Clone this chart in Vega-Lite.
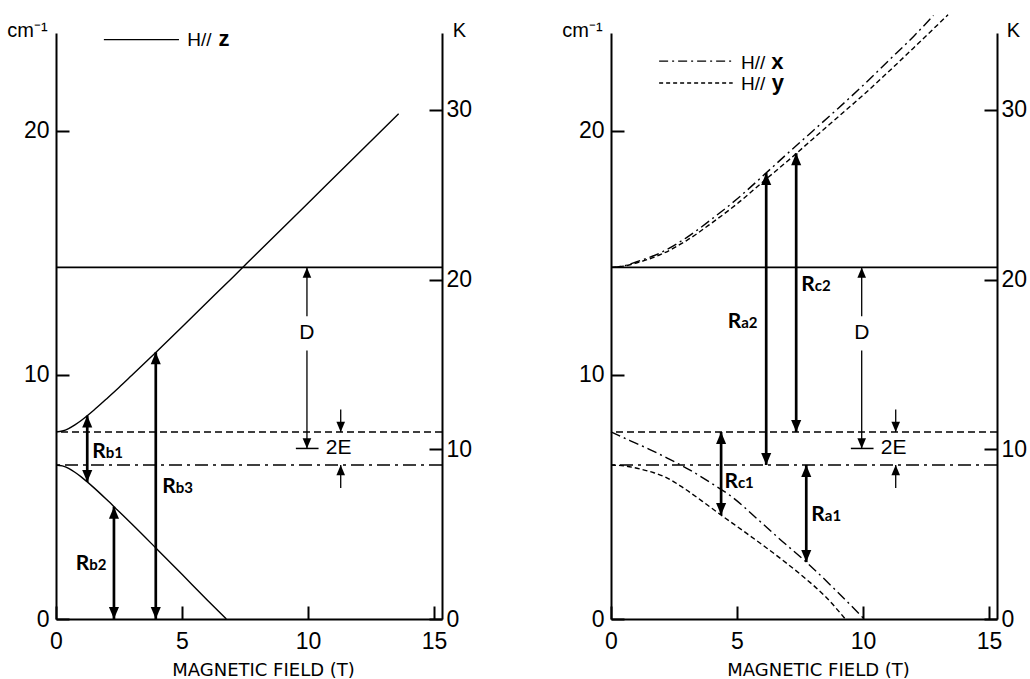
{
  "$schema": "https://vega.github.io/schema/vega-lite/v6.json",
  "background": "white",
  "padding": {"left": 6, "top": 11, "right": 0, "bottom": 2},
  "datasets": {
    "levels": [
      {"E": 14.4, "kind": "D"},
      {"E": 7.66, "kind": "upper"},
      {"E": 6.31, "kind": "lower"}
    ],
    "curves": [
      {"panel": "z", "series": "z-up", "H": 0, "E": 7.66},
      {"panel": "z", "series": "z-up", "H": 0.25, "E": 7.70},
      {"panel": "z", "series": "z-up", "H": 0.5, "E": 7.80},
      {"panel": "z", "series": "z-up", "H": 0.75, "E": 7.95},
      {"panel": "z", "series": "z-up", "H": 1, "E": 8.13},
      {"panel": "z", "series": "z-up", "H": 1.5, "E": 8.55},
      {"panel": "z", "series": "z-up", "H": 2, "E": 9.01},
      {"panel": "z", "series": "z-up", "H": 2.5, "E": 9.48},
      {"panel": "z", "series": "z-up", "H": 3, "E": 9.97},
      {"panel": "z", "series": "z-up", "H": 4, "E": 10.96},
      {"panel": "z", "series": "z-up", "H": 5, "E": 11.96},
      {"panel": "z", "series": "z-up", "H": 6, "E": 12.97},
      {"panel": "z", "series": "z-up", "H": 7, "E": 13.98},
      {"panel": "z", "series": "z-up", "H": 8, "E": 15.0},
      {"panel": "z", "series": "z-up", "H": 10, "E": 17.03},
      {"panel": "z", "series": "z-up", "H": 12, "E": 19.06},
      {"panel": "z", "series": "z-up", "H": 13.6, "E": 20.69},
      {"panel": "z", "series": "z-low", "H": 0, "E": 6.31},
      {"panel": "z", "series": "z-low", "H": 0.25, "E": 6.27},
      {"panel": "z", "series": "z-low", "H": 0.5, "E": 6.17},
      {"panel": "z", "series": "z-low", "H": 0.75, "E": 6.01},
      {"panel": "z", "series": "z-low", "H": 1, "E": 5.82},
      {"panel": "z", "series": "z-low", "H": 1.5, "E": 5.38},
      {"panel": "z", "series": "z-low", "H": 2, "E": 4.90},
      {"panel": "z", "series": "z-low", "H": 2.5, "E": 4.40},
      {"panel": "z", "series": "z-low", "H": 3, "E": 3.90},
      {"panel": "z", "series": "z-low", "H": 4, "E": 2.87},
      {"panel": "z", "series": "z-low", "H": 5, "E": 1.83},
      {"panel": "z", "series": "z-low", "H": 6, "E": 0.78},
      {"panel": "z", "series": "z-low", "H": 6.76, "E": 0},
      {"panel": "xy", "series": "x-up", "H": 0, "E": 14.4},
      {"panel": "xy", "series": "x-up", "H": 0.5, "E": 14.46},
      {"panel": "xy", "series": "x-up", "H": 1, "E": 14.62},
      {"panel": "xy", "series": "x-up", "H": 2, "E": 15.02},
      {"panel": "xy", "series": "x-up", "H": 3, "E": 15.62},
      {"panel": "xy", "series": "x-up", "H": 4, "E": 16.38},
      {"panel": "xy", "series": "x-up", "H": 5, "E": 17.2},
      {"panel": "xy", "series": "x-up", "H": 6, "E": 18.12},
      {"panel": "xy", "series": "x-up", "H": 7, "E": 19.06},
      {"panel": "xy", "series": "x-up", "H": 8, "E": 19.98},
      {"panel": "xy", "series": "x-up", "H": 9, "E": 20.9},
      {"panel": "xy", "series": "x-up", "H": 10, "E": 21.85},
      {"panel": "xy", "series": "x-up", "H": 11, "E": 22.85},
      {"panel": "xy", "series": "x-up", "H": 12, "E": 23.85},
      {"panel": "xy", "series": "x-up", "H": 12.8, "E": 24.72},
      {"panel": "xy", "series": "y-up", "H": 0, "E": 14.4},
      {"panel": "xy", "series": "y-up", "H": 0.5, "E": 14.45},
      {"panel": "xy", "series": "y-up", "H": 1, "E": 14.58},
      {"panel": "xy", "series": "y-up", "H": 2, "E": 14.94},
      {"panel": "xy", "series": "y-up", "H": 3, "E": 15.5},
      {"panel": "xy", "series": "y-up", "H": 4, "E": 16.22},
      {"panel": "xy", "series": "y-up", "H": 5, "E": 17.0},
      {"panel": "xy", "series": "y-up", "H": 6, "E": 17.88},
      {"panel": "xy", "series": "y-up", "H": 7, "E": 18.75},
      {"panel": "xy", "series": "y-up", "H": 8, "E": 19.65},
      {"panel": "xy", "series": "y-up", "H": 9, "E": 20.55},
      {"panel": "xy", "series": "y-up", "H": 10, "E": 21.45},
      {"panel": "xy", "series": "y-up", "H": 11, "E": 22.4},
      {"panel": "xy", "series": "y-up", "H": 12, "E": 23.38},
      {"panel": "xy", "series": "y-up", "H": 13.38, "E": 24.75},
      {"panel": "xy", "series": "x-low", "H": 0, "E": 7.66},
      {"panel": "xy", "series": "x-low", "H": 0.75, "E": 7.31},
      {"panel": "xy", "series": "x-low", "H": 1.5, "E": 6.96},
      {"panel": "xy", "series": "x-low", "H": 2.25, "E": 6.58},
      {"panel": "xy", "series": "x-low", "H": 3.1, "E": 6.12},
      {"panel": "xy", "series": "x-low", "H": 4.0, "E": 5.55},
      {"panel": "xy", "series": "x-low", "H": 4.83, "E": 4.98},
      {"panel": "xy", "series": "x-low", "H": 5.75, "E": 4.15},
      {"panel": "xy", "series": "x-low", "H": 6.69, "E": 3.28},
      {"panel": "xy", "series": "x-low", "H": 7.75, "E": 2.33},
      {"panel": "xy", "series": "x-low", "H": 8.9, "E": 1.2},
      {"panel": "xy", "series": "x-low", "H": 10.05, "E": 0},
      {"panel": "xy", "series": "y-low", "H": 0, "E": 6.31},
      {"panel": "xy", "series": "y-low", "H": 0.6, "E": 6.26},
      {"panel": "xy", "series": "y-low", "H": 1.2, "E": 6.13},
      {"panel": "xy", "series": "y-low", "H": 1.7, "E": 5.99},
      {"panel": "xy", "series": "y-low", "H": 2.18, "E": 5.8},
      {"panel": "xy", "series": "y-low", "H": 2.8, "E": 5.42},
      {"panel": "xy", "series": "y-low", "H": 3.6, "E": 4.84},
      {"panel": "xy", "series": "y-low", "H": 4.43, "E": 4.21},
      {"panel": "xy", "series": "y-low", "H": 5.3, "E": 3.57},
      {"panel": "xy", "series": "y-low", "H": 6.15, "E": 2.93},
      {"panel": "xy", "series": "y-low", "H": 7.0, "E": 2.26},
      {"panel": "xy", "series": "y-low", "H": 7.75, "E": 1.63},
      {"panel": "xy", "series": "y-low", "H": 8.5, "E": 0.93},
      {"panel": "xy", "series": "y-low", "H": 9.3, "E": 0}
    ],
    "arrows": [
      {"panel": "z", "name": "Rb1", "H": 1.24, "lo": 5.61, "hi": 8.33, "headLo": true, "headHi": true, "weight": "bold"},
      {"panel": "z", "name": "Rb2", "H": 2.3, "lo": 0, "hi": 4.6, "headLo": true, "headHi": true, "weight": "bold"},
      {"panel": "z", "name": "Rb3", "H": 3.96, "lo": 0, "hi": 10.92, "headLo": true, "headHi": true, "weight": "bold"},
      {"panel": "z", "name": "D-top", "H": 9.96, "lo": 12.4, "hi": 14.4, "headLo": false, "headHi": true, "weight": "thin"},
      {"panel": "z", "name": "D-bottom", "H": 9.96, "lo": 6.985, "hi": 11.0, "headLo": true, "headHi": false, "weight": "thin"},
      {"panel": "z", "name": "2E-top", "H": 11.3, "lo": 7.66, "hi": 8.58, "headLo": true, "headHi": false, "weight": "thin"},
      {"panel": "z", "name": "2E-bottom", "H": 11.3, "lo": 5.37, "hi": 6.31, "headLo": false, "headHi": true, "weight": "thin"},
      {"panel": "xy", "name": "Rc1", "H": 4.37, "lo": 4.26, "hi": 7.66, "headLo": true, "headHi": true, "weight": "bold"},
      {"panel": "xy", "name": "Ra1", "H": 7.75, "lo": 2.33, "hi": 6.31, "headLo": true, "headHi": true, "weight": "bold"},
      {"panel": "xy", "name": "Ra2", "H": 6.16, "lo": 6.31, "hi": 18.27, "headLo": true, "headHi": true, "weight": "bold"},
      {"panel": "xy", "name": "Rc2", "H": 7.35, "lo": 7.66, "hi": 19.07, "headLo": true, "headHi": true, "weight": "bold"},
      {"panel": "xy", "name": "D-top", "H": 9.95, "lo": 12.4, "hi": 14.4, "headLo": false, "headHi": true, "weight": "thin"},
      {"panel": "xy", "name": "D-bottom", "H": 9.95, "lo": 6.985, "hi": 11.0, "headLo": true, "headHi": false, "weight": "thin"},
      {"panel": "xy", "name": "2E-top", "H": 11.3, "lo": 7.66, "hi": 8.58, "headLo": true, "headHi": false, "weight": "thin"},
      {"panel": "xy", "name": "2E-bottom", "H": 11.3, "lo": 5.37, "hi": 6.31, "headLo": false, "headHi": true, "weight": "thin"}
    ],
    "bars": [
      {"H": 9.52, "H2": 10.42, "E": 6.985}
    ],
    "notes": [
      {"H": 9.96, "E": 11.7, "text": "D"},
      {"H": 11.22, "E": 6.985, "text": "2E"}
    ],
    "rlabels": [
      {"panel": "z", "H": 1.44, "E": 6.59, "sub": "b1"},
      {"panel": "z", "H": 4.22, "E": 5.16, "sub": "b3"},
      {"panel": "z", "H": 0.78, "E": 2.02, "sub": "b2"},
      {"panel": "xy", "H": 7.55, "E": 13.42, "sub": "c2"},
      {"panel": "xy", "H": 4.63, "E": 11.92, "sub": "a2"},
      {"panel": "xy", "H": 4.5, "E": 5.37, "sub": "c1"},
      {"panel": "xy", "H": 7.95, "E": 4.0, "sub": "a1"}
    ],
    "legend": [
      {"panel": "z", "style": "solid", "H1": 1.9, "H2": 4.88, "lineE": 23.73, "textH": 5.21, "textE": 23.45, "keyH": 6.45, "label": "H//", "key": "z"},
      {"panel": "xy", "style": "dashdot", "H1": 1.91, "H2": 4.83, "lineE": 22.85, "textH": 5.16, "textE": 22.51, "keyH": 6.36, "label": "H//", "key": "x"},
      {"panel": "xy", "style": "dashed", "H1": 1.91, "H2": 4.83, "lineE": 21.95, "textH": 5.16, "textE": 21.67, "keyH": 6.38, "label": "H//", "key": "y"}
    ]
  },
  "hconcat": [
    {
      "width": 386,
      "height": 586,
      "resolve": {"scale": {"y": "independent"}},
      "layer": [
        {
          "layer": [
            {
              "data": {"name": "curves"},
              "transform": [{"filter": "datum.panel === 'z'"}],
              "mark": {"type": "line", "color": "black", "strokeWidth": 1.4, "interpolate": "monotone"},
              "encoding": {
                "x": {"field": "H", "type": "quantitative", "scale": {"domain": [0, 15.32], "nice": false, "zero": false},
                      "axis": {"values": [0, 5, 10, 15], "title": "MAGNETIC FIELD (T)", "titleX": 207, "titleY": 56, "titleAlign": "center", "titleBaseline": "alphabetic", "titleFont": "DejaVu Sans", "titleFontSize": 18}},
                "y": {"field": "E", "type": "quantitative", "scale": {"domain": [0, 24], "nice": false},
                      "axis": {"values": [0, 10, 20], "title": "cm⁻¹", "titleAngle": 0, "titleX": -29, "titleY": 3, "titleAlign": "center", "titleBaseline": "alphabetic", "titleFontSize": 20}},
                "detail": {"field": "series"}
              }
            },
            {
              "data": {"name": "levels"},
              "transform": [{"filter": "datum.kind === 'D'"}],
              "mark": {"type": "rule", "color": "black", "strokeWidth": 1.8},
              "encoding": {"y": {"field": "E", "type": "quantitative"}}
            },
            {
              "data": {"name": "levels"},
              "transform": [{"filter": "datum.kind === 'upper'"}],
              "mark": {"type": "rule", "color": "black", "strokeWidth": 1.4, "strokeDash": [7, 4]},
              "encoding": {"y": {"field": "E", "type": "quantitative"}}
            },
            {
              "data": {"name": "levels"},
              "transform": [{"filter": "datum.kind === 'lower'"}],
              "mark": {"type": "rule", "color": "black", "strokeWidth": 1.4, "strokeDash": [13, 5, 3, 5]},
              "encoding": {"y": {"field": "E", "type": "quantitative"}}
            },
            {
              "data": {"name": "arrows"},
              "transform": [{"filter": "datum.panel === 'z' && datum.weight === 'bold'"}],
              "mark": {"type": "rule", "color": "black", "strokeWidth": 2.7},
              "encoding": {"x": {"field": "H", "type": "quantitative"}, "y": {"field": "lo", "type": "quantitative"}, "y2": {"field": "hi"}}
            },
            {
              "data": {"name": "arrows"},
              "transform": [{"filter": "datum.panel === 'z' && datum.weight === 'thin'"}],
              "mark": {"type": "rule", "color": "black", "strokeWidth": 1.3},
              "encoding": {"x": {"field": "H", "type": "quantitative"}, "y": {"field": "lo", "type": "quantitative"}, "y2": {"field": "hi"}}
            },
            {
              "data": {"name": "arrows"},
              "transform": [{"filter": "datum.panel === 'z' && datum.headHi"}],
              "mark": {"type": "point", "shape": "M0,0L0.42,1L-0.42,1Z", "filled": true, "color": "black", "opacity": 1},
              "encoding": {
                "x": {"field": "H", "type": "quantitative"},
                "y": {"field": "hi", "type": "quantitative"},
                "size": {"field": "weight", "type": "ordinal", "scale": {"domain": ["bold", "thin"], "range": [576, 420]}, "legend": null}
              }
            },
            {
              "data": {"name": "arrows"},
              "transform": [{"filter": "datum.panel === 'z' && datum.headLo"}],
              "mark": {"type": "point", "shape": "M0,0L0.42,-1L-0.42,-1Z", "filled": true, "color": "black", "opacity": 1},
              "encoding": {
                "x": {"field": "H", "type": "quantitative"},
                "y": {"field": "lo", "type": "quantitative"},
                "size": {"field": "weight", "type": "ordinal", "scale": {"domain": ["bold", "thin"], "range": [576, 420]}, "legend": null}
              }
            },
            {
              "data": {"name": "bars"},
              "mark": {"type": "rule", "color": "black", "strokeWidth": 1.5},
              "encoding": {"x": {"field": "H", "type": "quantitative"}, "x2": {"field": "H2"}, "y": {"field": "E", "type": "quantitative"}}
            },
            {
              "data": {"name": "notes"},
              "mark": {"type": "text", "fontSize": 21, "align": "center", "baseline": "middle", "color": "black"},
              "encoding": {"x": {"field": "H", "type": "quantitative"}, "y": {"field": "E", "type": "quantitative"}, "text": {"field": "text"}}
            },
            {
              "data": {"name": "rlabels"},
              "transform": [{"filter": "datum.panel === 'z'"}],
              "mark": {"type": "text", "text": "R", "font": "Lato", "fontWeight": "bold", "fontSize": 21, "align": "left", "baseline": "alphabetic", "color": "black"},
              "encoding": {"x": {"field": "H", "type": "quantitative"}, "y": {"field": "E", "type": "quantitative"}}
            },
            {
              "data": {"name": "rlabels"},
              "transform": [{"filter": "datum.panel === 'z'"}],
              "mark": {"type": "text", "dx": 13.5, "font": "Lato", "fontWeight": "bold", "fontSize": 15, "align": "left", "baseline": "alphabetic", "color": "black"},
              "encoding": {"x": {"field": "H", "type": "quantitative"}, "y": {"field": "E", "type": "quantitative"}, "text": {"field": "sub"}}
            },
            {
              "data": {"name": "legend"},
              "transform": [{"filter": "datum.panel === 'z'"}],
              "mark": {"type": "rule", "color": "black", "strokeWidth": 1.4},
              "encoding": {"x": {"field": "H1", "type": "quantitative"}, "x2": {"field": "H2"}, "y": {"field": "lineE", "type": "quantitative"}}
            },
            {
              "data": {"name": "legend"},
              "transform": [{"filter": "datum.panel === 'z'"}],
              "mark": {"type": "text", "fontSize": 19, "align": "left", "baseline": "alphabetic", "color": "black"},
              "encoding": {"x": {"field": "textH", "type": "quantitative"}, "y": {"field": "textE", "type": "quantitative"}, "text": {"field": "label"}}
            },
            {
              "data": {"name": "legend"},
              "transform": [{"filter": "datum.panel === 'z'"}],
              "mark": {"type": "text", "fontSize": 22, "fontWeight": "bold", "align": "left", "baseline": "alphabetic", "color": "black"},
              "encoding": {"x": {"field": "keyH", "type": "quantitative"}, "y": {"field": "textE", "type": "quantitative"}, "text": {"field": "key"}}
            }
          ]
        },
        {
          "data": {"values": [{}]},
          "mark": {"type": "rule", "opacity": 0},
          "encoding": {
            "y": {"datum": 0, "type": "quantitative", "scale": {"domain": [0, 34.53], "nice": false},
                  "axis": {"orient": "right", "values": [0, 10, 20, 30], "labelPadding": 17, "title": "K", "titleAngle": 0, "titleX": 17, "titleY": 3, "titleAlign": "center", "titleBaseline": "alphabetic", "titleFontSize": 20}}
          }
        }
      ]
    },
    {
      "width": 386,
      "height": 586,
      "resolve": {"scale": {"y": "independent"}},
      "layer": [
        {
          "layer": [
            {
              "data": {"name": "curves"},
              "transform": [{"filter": "datum.panel === 'xy' && (datum.series === 'x-up' || datum.series === 'x-low')"}],
              "mark": {"type": "line", "color": "black", "strokeWidth": 1.4, "strokeDash": [10, 4, 2, 4], "interpolate": "monotone"},
              "encoding": {
                "x": {"field": "H", "type": "quantitative", "scale": {"domain": [0, 15.32], "nice": false, "zero": false},
                      "axis": {"values": [0, 5, 10, 15], "title": "MAGNETIC FIELD (T)", "titleX": 207, "titleY": 56, "titleAlign": "center", "titleBaseline": "alphabetic", "titleFont": "DejaVu Sans", "titleFontSize": 18}},
                "y": {"field": "E", "type": "quantitative", "scale": {"domain": [0, 24], "nice": false},
                      "axis": {"values": [0, 10, 20], "title": "cm⁻¹", "titleAngle": 0, "titleX": -29, "titleY": 3, "titleAlign": "center", "titleBaseline": "alphabetic", "titleFontSize": 20}},
                "detail": {"field": "series"}
              }
            },
            {
              "data": {"name": "curves"},
              "transform": [{"filter": "datum.panel === 'xy' && (datum.series === 'y-up' || datum.series === 'y-low')"}],
              "mark": {"type": "line", "color": "black", "strokeWidth": 1.4, "strokeDash": [5, 3], "interpolate": "monotone"},
              "encoding": {
                "x": {"field": "H", "type": "quantitative"},
                "y": {"field": "E", "type": "quantitative"},
                "detail": {"field": "series"}
              }
            },
            {
              "data": {"name": "levels"},
              "transform": [{"filter": "datum.kind === 'D'"}],
              "mark": {"type": "rule", "color": "black", "strokeWidth": 1.8},
              "encoding": {"y": {"field": "E", "type": "quantitative"}}
            },
            {
              "data": {"name": "levels"},
              "transform": [{"filter": "datum.kind === 'upper'"}],
              "mark": {"type": "rule", "color": "black", "strokeWidth": 1.4, "strokeDash": [7, 4]},
              "encoding": {"y": {"field": "E", "type": "quantitative"}}
            },
            {
              "data": {"name": "levels"},
              "transform": [{"filter": "datum.kind === 'lower'"}],
              "mark": {"type": "rule", "color": "black", "strokeWidth": 1.4, "strokeDash": [13, 5, 3, 5]},
              "encoding": {"y": {"field": "E", "type": "quantitative"}}
            },
            {
              "data": {"name": "arrows"},
              "transform": [{"filter": "datum.panel === 'xy' && datum.weight === 'bold'"}],
              "mark": {"type": "rule", "color": "black", "strokeWidth": 2.7},
              "encoding": {"x": {"field": "H", "type": "quantitative"}, "y": {"field": "lo", "type": "quantitative"}, "y2": {"field": "hi"}}
            },
            {
              "data": {"name": "arrows"},
              "transform": [{"filter": "datum.panel === 'xy' && datum.weight === 'thin'"}],
              "mark": {"type": "rule", "color": "black", "strokeWidth": 1.3},
              "encoding": {"x": {"field": "H", "type": "quantitative"}, "y": {"field": "lo", "type": "quantitative"}, "y2": {"field": "hi"}}
            },
            {
              "data": {"name": "arrows"},
              "transform": [{"filter": "datum.panel === 'xy' && datum.headHi"}],
              "mark": {"type": "point", "shape": "M0,0L0.42,1L-0.42,1Z", "filled": true, "color": "black", "opacity": 1},
              "encoding": {
                "x": {"field": "H", "type": "quantitative"},
                "y": {"field": "hi", "type": "quantitative"},
                "size": {"field": "weight", "type": "ordinal", "scale": {"domain": ["bold", "thin"], "range": [576, 420]}, "legend": null}
              }
            },
            {
              "data": {"name": "arrows"},
              "transform": [{"filter": "datum.panel === 'xy' && datum.headLo"}],
              "mark": {"type": "point", "shape": "M0,0L0.42,-1L-0.42,-1Z", "filled": true, "color": "black", "opacity": 1},
              "encoding": {
                "x": {"field": "H", "type": "quantitative"},
                "y": {"field": "lo", "type": "quantitative"},
                "size": {"field": "weight", "type": "ordinal", "scale": {"domain": ["bold", "thin"], "range": [576, 420]}, "legend": null}
              }
            },
            {
              "data": {"name": "bars"},
              "mark": {"type": "rule", "color": "black", "strokeWidth": 1.5},
              "encoding": {"x": {"field": "H", "type": "quantitative"}, "x2": {"field": "H2"}, "y": {"field": "E", "type": "quantitative"}}
            },
            {
              "data": {"name": "notes"},
              "mark": {"type": "text", "fontSize": 21, "align": "center", "baseline": "middle", "color": "black"},
              "encoding": {"x": {"field": "H", "type": "quantitative"}, "y": {"field": "E", "type": "quantitative"}, "text": {"field": "text"}}
            },
            {
              "data": {"name": "rlabels"},
              "transform": [{"filter": "datum.panel === 'xy'"}],
              "mark": {"type": "text", "text": "R", "font": "Lato", "fontWeight": "bold", "fontSize": 21, "align": "left", "baseline": "alphabetic", "color": "black"},
              "encoding": {"x": {"field": "H", "type": "quantitative"}, "y": {"field": "E", "type": "quantitative"}}
            },
            {
              "data": {"name": "rlabels"},
              "transform": [{"filter": "datum.panel === 'xy'"}],
              "mark": {"type": "text", "dx": 13.5, "font": "Lato", "fontWeight": "bold", "fontSize": 15, "align": "left", "baseline": "alphabetic", "color": "black"},
              "encoding": {"x": {"field": "H", "type": "quantitative"}, "y": {"field": "E", "type": "quantitative"}, "text": {"field": "sub"}}
            },
            {
              "data": {"name": "legend"},
              "transform": [{"filter": "datum.panel === 'xy' && datum.style === 'dashdot'"}],
              "mark": {"type": "rule", "color": "black", "strokeWidth": 1.4, "strokeDash": [9, 4, 2, 4]},
              "encoding": {"x": {"field": "H1", "type": "quantitative"}, "x2": {"field": "H2"}, "y": {"field": "lineE", "type": "quantitative"}}
            },
            {
              "data": {"name": "legend"},
              "transform": [{"filter": "datum.panel === 'xy' && datum.style === 'dashed'"}],
              "mark": {"type": "rule", "color": "black", "strokeWidth": 1.4, "strokeDash": [4, 3]},
              "encoding": {"x": {"field": "H1", "type": "quantitative"}, "x2": {"field": "H2"}, "y": {"field": "lineE", "type": "quantitative"}}
            },
            {
              "data": {"name": "legend"},
              "transform": [{"filter": "datum.panel === 'xy'"}],
              "mark": {"type": "text", "fontSize": 19, "align": "left", "baseline": "alphabetic", "color": "black"},
              "encoding": {"x": {"field": "textH", "type": "quantitative"}, "y": {"field": "textE", "type": "quantitative"}, "text": {"field": "label"}}
            },
            {
              "data": {"name": "legend"},
              "transform": [{"filter": "datum.panel === 'xy'"}],
              "mark": {"type": "text", "fontSize": 22, "fontWeight": "bold", "align": "left", "baseline": "alphabetic", "color": "black"},
              "encoding": {"x": {"field": "keyH", "type": "quantitative"}, "y": {"field": "textE", "type": "quantitative"}, "text": {"field": "key"}}
            }
          ]
        },
        {
          "data": {"values": [{}]},
          "mark": {"type": "rule", "opacity": 0},
          "encoding": {
            "y": {"datum": 0, "type": "quantitative", "scale": {"domain": [0, 34.53], "nice": false},
                  "axis": {"orient": "right", "values": [0, 10, 20, 30], "labelPadding": 17, "title": "K", "titleAngle": 0, "titleX": 16, "titleY": 3, "titleAlign": "center", "titleBaseline": "alphabetic", "titleFontSize": 20}}
          }
        }
      ]
    }
  ],
  "spacing": 169,
  "bounds": "flush",
  "config": {
    "view": {"stroke": null},
    "font": "Liberation Sans",
    "axis": {
      "grid": false,
      "domainColor": "black",
      "domainWidth": 2,
      "tickColor": "black",
      "tickWidth": 2,
      "tickSize": -13,
      "labelColor": "black",
      "labelFont": "Liberation Sans",
      "labelFontSize": 23,
      "labelFlush": false,
      "labelOverlap": false,
      "titleColor": "black",
      "titleFont": "Liberation Sans",
      "titleFontWeight": "normal",
      "titlePadding": 0
    },
    "axisX": {"labelPadding": 24},
    "axisY": {"labelPadding": 20}
  }
}
